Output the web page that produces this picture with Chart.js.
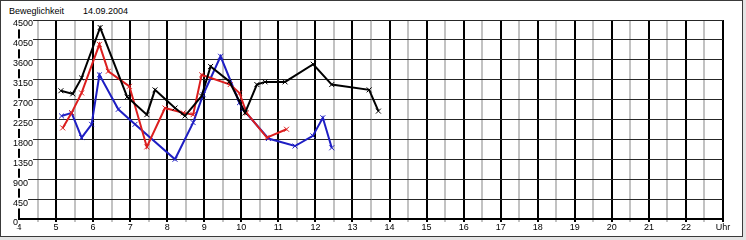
<!DOCTYPE html>
<html lang="de">
<head>
<meta charset="UTF-8">
<title>Beweglichkeit</title>
<script src="https://cdn.jsdelivr.net/npm/chart.js"></script>
<style>
  body { margin: 0; background: #e4e4e4; }
  #rahmen { position: relative; width: 746px; height: 240px; }
  #feld {
    position: absolute; left: 0; top: 0; width: 743px; height: 237px;
    box-sizing: border-box; border: 1px solid #3a3a3a; background: #fff;
  }
  #grafik { position: absolute; left: 0; top: 0; }
  .kopf {
    position: absolute; top: 6px; font: 9px "Liberation Sans", Arial, sans-serif;
    color: #000; line-height: 11px;
  }
</style>
</head>
<body>
<div id="rahmen">
  <div id="feld"></div>
  <span class="kopf" style="left:9px">Beweglichkeit</span>
  <span class="kopf" style="left:83px">14.09.2004</span>
  <canvas id="grafik" width="746" height="240"></canvas>
</div>

<script>
// Messwerte (Uhrzeit in Stunden, Wert)
var zeitenSchwarz = [5.13, 5.45, 5.69, 6.19, 6.92, 7.45, 7.67, 8.21, 8.48, 8.93, 9.17, 9.68, 10.1, 10.42, 10.64, 11.18, 11.94, 12.44, 13.45, 13.7]
var werteSchwarz  = [2900, 2830, 3190, 4330, 2760, 2360, 2920, 2510, 2330, 2780, 3450, 3110, 2400, 3040, 3100, 3100, 3500, 3040, 2920, 2440]

var zeitenRot = [5.18, 5.42, 5.69, 6.17, 6.41, 6.98, 7.45, 7.94, 8.43, 8.7, 8.93, 9.7, 9.95, 10.14, 10.69, 11.22]
var werteRot  = [2060, 2400, 2850, 3950, 3340, 3000, 1630, 2510, 2400, 2360, 3260, 3040, 2850, 2400, 1840, 2030]

var zeitenBlau = [5.15, 5.42, 5.69, 5.96, 6.17, 6.68, 7.13, 8.21, 8.7, 8.97, 9.44, 9.95, 10.05, 10.73, 11.45, 11.93, 12.2, 12.44]
var werteBlau  = [2330, 2400, 1840, 2140, 3260, 2480, 2140, 1350, 2180, 2810, 3680, 2630, 2480, 1820, 1650, 1880, 2290, 1610]

// Achsen
var stundeMin = 4
var stundeMax = 23
var letzteBeschriftung = 'Uhr'
var wertMax = 4500
var wertSchritt = 450

function punkte(zeiten, werte) {
  var liste = []
  for (var i = 0; i < zeiten.length; i += 1) {
    liste.push({ x: zeiten[i], y: werte[i] })
  }
  return liste
}

function serie(zeiten, werte, farbe) {
  return {
    data: punkte(zeiten, werte),
    borderColor: farbe,
    backgroundColor: farbe,
    borderWidth: 2,
    pointStyle: 'crossRot',
    pointRadius: 3.5,
    pointBorderWidth: 1,
    tension: 0
  }
}

var schrift = { family: '"Liberation Sans", Arial, sans-serif', size: 9 }

new Chart(document.getElementById('grafik'), {
  type: 'line',
  data: {
    datasets: [
      serie(zeitenSchwarz, werteSchwarz, '#000000'),
      serie(zeitenRot, werteRot, '#dc1e1e'),
      serie(zeitenBlau, werteBlau, '#1e1ec3')
    ]
  },
  options: {
    responsive: false,
    animation: false,
    layout: { padding: { left: 0, top: 20, right: 23, bottom: 0 } },
    plugins: { legend: { display: false }, tooltip: { enabled: false } },
    scales: {
      x: {
        type: 'linear',
        min: stundeMin,
        max: stundeMax,
        afterFit: function (scale) { scale.height = 21 },
        ticks: {
          stepSize: 0.5,
          autoSkip: false,
          maxRotation: 0,
          padding: 0,
          color: '#000',
          font: schrift,
          callback: function (wert) {
            if (!Number.isInteger(wert)) return ''
            if (wert === stundeMax) return letzteBeschriftung
            return String(wert)
          }
        },
        grid: {
          tickLength: 3,
          color: function (ctx) {
            if (!ctx.tick) return '#000'
            if (ctx.tick.value === stundeMin) return 'rgba(0,0,0,0)'
            return Number.isInteger(ctx.tick.value) ? '#000' : '#c2c2c2'
          },
          lineWidth: 2
        },
        border: { display: true, color: '#000', width: 2 }
      },
      y: {
        min: 0,
        max: wertMax,
        afterFit: function (scale) { scale.width = 19 },
        ticks: {
          stepSize: wertSchritt,
          color: '#000',
          font: schrift,
          // Beschriftung liegt über der Achse, wie im Original
          mirror: true,
          padding: -6,
          labelOffset: 4,
          showLabelBackdrop: true,
          backdropColor: '#ffffff',
          backdropPadding: 0,
          callback: function (wert) { return String(wert) }
        },
        grid: { color: '#262626', lineWidth: 1, drawTicks: false },
        border: { display: true, color: '#000', width: 2 }
      }
    }
  }
})
</script>
</body>
</html>
